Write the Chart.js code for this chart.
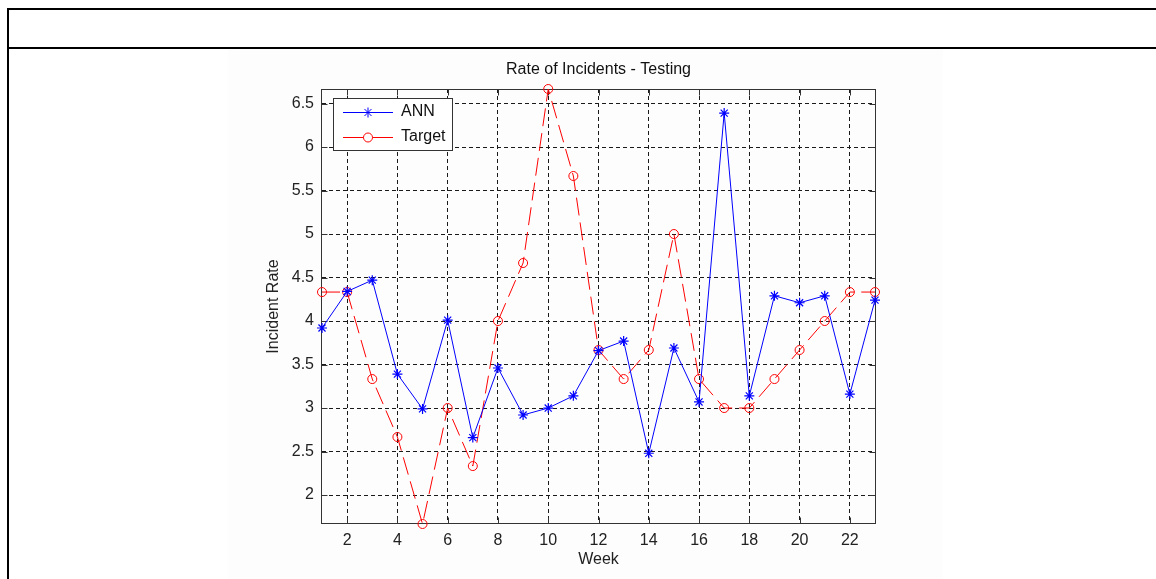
<!DOCTYPE html>
<html>
<head>
<meta charset="utf-8">
<script src="https://cdn.jsdelivr.net/npm/chart.js@4/dist/chart.umd.min.js"></script>
<style>
  html, body { margin: 0; padding: 0; background: #ffffff; width: 1156px; height: 579px; overflow: hidden; }
  #fig { position: absolute; left: 228px; top: 49px; width: 715px; height: 530px; background: #fdfdfd; }
  .hl { position: absolute; left: 7px; width: 1149px; height: 2px; background: #000; }
  .vl { position: absolute; left: 7px; top: 8px; width: 2px; height: 571px; background: #000; }
  #c { position: absolute; left: 0; top: 0; }
</style>
</head>
<body>
<div id="fig"></div>
<div class="hl" style="top:8px"></div>
<div class="hl" style="top:47px"></div>
<div class="vl"></div>
<canvas id="c" width="1156" height="579"></canvas>
<script>
// ---- data ----
const weeks = [1,2,3,4,5,6,7,8,9,10,11,12,13,14,15,16,17,18,19,20,21,22,23];
const annValues = [3.92, 4.34, 4.47, 3.39, 2.99, 4.01, 2.66, 3.46, 2.92, 3.00, 3.14, 3.66,
                   3.77, 2.48, 3.69, 3.07, 6.39, 3.14, 4.29, 4.21, 4.29, 3.16, 4.24];
const targetValues = [4.333, 4.333, 3.333, 2.667, 1.667, 3.000, 2.333, 4.000, 4.667, 6.667, 5.667, 3.667,
                      3.333, 3.667, 5.000, 3.333, 3.000, 3.000, 3.333, 3.667, 4.000, 4.333, 4.333];
const xTicks = [2,4,6,8,10,12,14,16,18,20,22];
const yTicks = [2,2.5,3,3.5,4,4.5,5,5.5,6,6.5];
const yTickLabels = ['2','2.5','3','3.5','4','4.5','5','5.5','6','6.5'];
const seriesNames = ['ANN', 'Target'];
const chartTitle = 'Rate of Incidents - Testing';
const xTitle = 'Week';
const yTitle = 'Incident Rate';

const FONT = 'Liberation Sans, Arial, Helvetica, sans-serif';
const allVals = annValues.concat(targetValues);

// legend icons (line with marker in the middle, MATLAB style)
function makeIcon(color, marker) {
  const c = document.createElement('canvas');
  c.width = 50; c.height = 12;
  const g = c.getContext('2d');
  g.strokeStyle = color; g.lineWidth = 1;
  const cy = 6.5, cx = 25;
  g.beginPath();
  if (marker === 'star') {
    g.moveTo(0, cy); g.lineTo(50, cy);
    const r = 5, d = r * Math.SQRT1_2;
    g.moveTo(cx, cy - r); g.lineTo(cx, cy + r);
    g.moveTo(cx - d, cy - d); g.lineTo(cx + d, cy + d);
    g.moveTo(cx - d, cy + d); g.lineTo(cx + d, cy - d);
    g.stroke();
  } else {
    g.moveTo(0, cy); g.lineTo(cx - 4.5, cy);
    g.moveTo(cx + 4.5, cy); g.lineTo(50, cy);
    g.stroke();
    g.beginPath(); g.arc(cx, cy, 4.5, 0, Math.PI * 2); g.stroke();
  }
  return c;
}
const legendIcons = [makeIcon('#0000ff', 'star'), makeIcon('#ff0000', 'circle')];

const framePlugin = {
  id: 'frame',
  beforeDatasetsDraw(chart) {
    const { ctx, chartArea: a, scales } = chart;
    const L = Math.round(a.left) - 0.5, R = Math.round(a.right) + 0.5;
    const T = Math.round(a.top) + 0.5, B = Math.round(a.bottom) - 0.5;
    ctx.save();
    ctx.strokeStyle = '#333333';
    ctx.lineWidth = 1;
    ctx.setLineDash([]);
    ctx.strokeRect(L, T, R - L, B - T);
    const tl = 6;
    ctx.beginPath();
    scales.x.ticks.forEach(t => {
      const px = Math.round(scales.x.getPixelForValue(t.value)) + 0.5;
      ctx.moveTo(px, T); ctx.lineTo(px, T + tl);
      ctx.moveTo(px, B); ctx.lineTo(px, B - tl);
    });
    scales.y.ticks.forEach(t => {
      const py = Math.round(scales.y.getPixelForValue(t.value)) + 0.5;
      ctx.moveTo(L, py); ctx.lineTo(L + tl, py);
      ctx.moveTo(R, py); ctx.lineTo(R - tl, py);
    });
    ctx.stroke();
    ctx.restore();
  }
};

const legendBoxPlugin = {
  id: 'legendBox',
  afterLayout(chart) {
    const lg = chart.legend;
    if (!lg) return;
    const a = chart.chartArea;
    lg.left = a.left + 12;
    lg.top = a.top + 6;
    if (!lg._boxWrapped) {
      const orig = lg.draw;
      lg.draw = function () {
        const ctx = this.ctx;
        ctx.save();
        ctx.fillStyle = '#ffffff';
        ctx.fillRect(this.left - 1, this.top + 3, 120, 53);
        ctx.strokeStyle = '#333333';
        ctx.lineWidth = 1;
        ctx.strokeRect(Math.round(this.left - 1) + 0.5, Math.round(this.top + 3) + 0.5, 119, 52);
        ctx.restore();
        orig.call(this);
      };
      lg._boxWrapped = true;
    }
  }
};

new Chart(document.getElementById('c'), {
  type: 'line',
  data: {
    datasets: [
      {
        label: seriesNames[0],
        data: weeks.map((w, i) => ({ x: w, y: annValues[i] })),
        borderColor: '#0000ff',
        borderWidth: 1,
        backgroundColor: '#0000ff',
        pointStyle: 'star',
        pointRadius: 5,
        pointBorderColor: '#0000ff',
        pointBorderWidth: 1.2,
        tension: 0,
        fill: false,
        clip: false
      },
      {
        label: seriesNames[1],
        data: weeks.map((w, i) => ({ x: w, y: targetValues[i] })),
        borderColor: '#ff0000',
        borderWidth: 1,
        borderDash: [18, 7],
        backgroundColor: 'rgba(0,0,0,0)',
        pointStyle: 'circle',
        pointRadius: 4.5,
        pointBorderColor: '#ff0000',
        pointBackgroundColor: 'rgba(0,0,0,0)',
        pointBorderWidth: 1,
        tension: 0,
        fill: false,
        clip: false
      }
    ]
  },
  options: {
    responsive: false,
    devicePixelRatio: 1,
    animation: false,
    events: [],
    layout: { padding: { left: 255, right: 281, top: 48, bottom: 9 } },
    scales: {
      x: {
        type: 'linear',
        min: weeks[0],
        max: weeks[weeks.length - 1],
        afterBuildTicks: s => { s.ticks = xTicks.map(v => ({ value: v })); },
        afterFit: s => { s.height = 46; },
        ticks: {
          padding: 7,
          color: '#222222',
          font: { family: FONT, size: 16 },
          callback: v => String(v),
          maxRotation: 0,
          autoSkip: false
        },
        grid: { color: '#1a1a1a', lineWidth: 1, drawTicks: false, z: -1 },
        border: { display: false, dash: [4, 3] },
        title: {
          display: true,
          text: xTitle,
          color: '#222222',
          font: { family: FONT, size: 16 },
          padding: { top: 0, bottom: 1 }
        }
      },
      y: {
        type: 'linear',
        min: Math.min(...allVals),
        max: Math.max(...allVals),
        afterBuildTicks: s => { s.ticks = yTicks.map(v => ({ value: v })); },
        afterFit: s => { s.width = 67; },
        ticks: {
          padding: 8,
          color: '#222222',
          font: { family: FONT, size: 16 },
          callback: (v) => { const i = yTicks.indexOf(v); return i >= 0 ? yTickLabels[i] : ''; },
          autoSkip: false
        },
        grid: { color: '#1a1a1a', lineWidth: 1, drawTicks: false, z: -1 },
        border: { display: false, dash: [4, 3] },
        title: {
          display: true,
          text: yTitle,
          color: '#222222',
          font: { family: FONT, size: 16 },
          padding: { top: 9, bottom: 0 }
        }
      }
    },
    plugins: {
      tooltip: { enabled: false },
      title: {
        display: true,
        text: chartTitle,
        fullSize: false,
        color: '#111111',
        font: { family: FONT, size: 16, weight: 'normal' },
        padding: { top: 12.4, bottom: 9.4 }
      },
      legend: {
        display: true,
        position: 'chartArea',
        align: 'start',
        labels: {
          usePointStyle: true,
          pointStyleWidth: 50,
          padding: 9,
          color: '#111111',
          font: { family: FONT, size: 16 },
          generateLabels: (chart) => {
            const items = Chart.defaults.plugins.legend.labels.generateLabels(chart);
            items.forEach((it) => { it.pointStyle = legendIcons[it.datasetIndex]; });
            return items;
          }
        }
      }
    }
  },
  plugins: [framePlugin, legendBoxPlugin]
});
</script>
</body>
</html>
